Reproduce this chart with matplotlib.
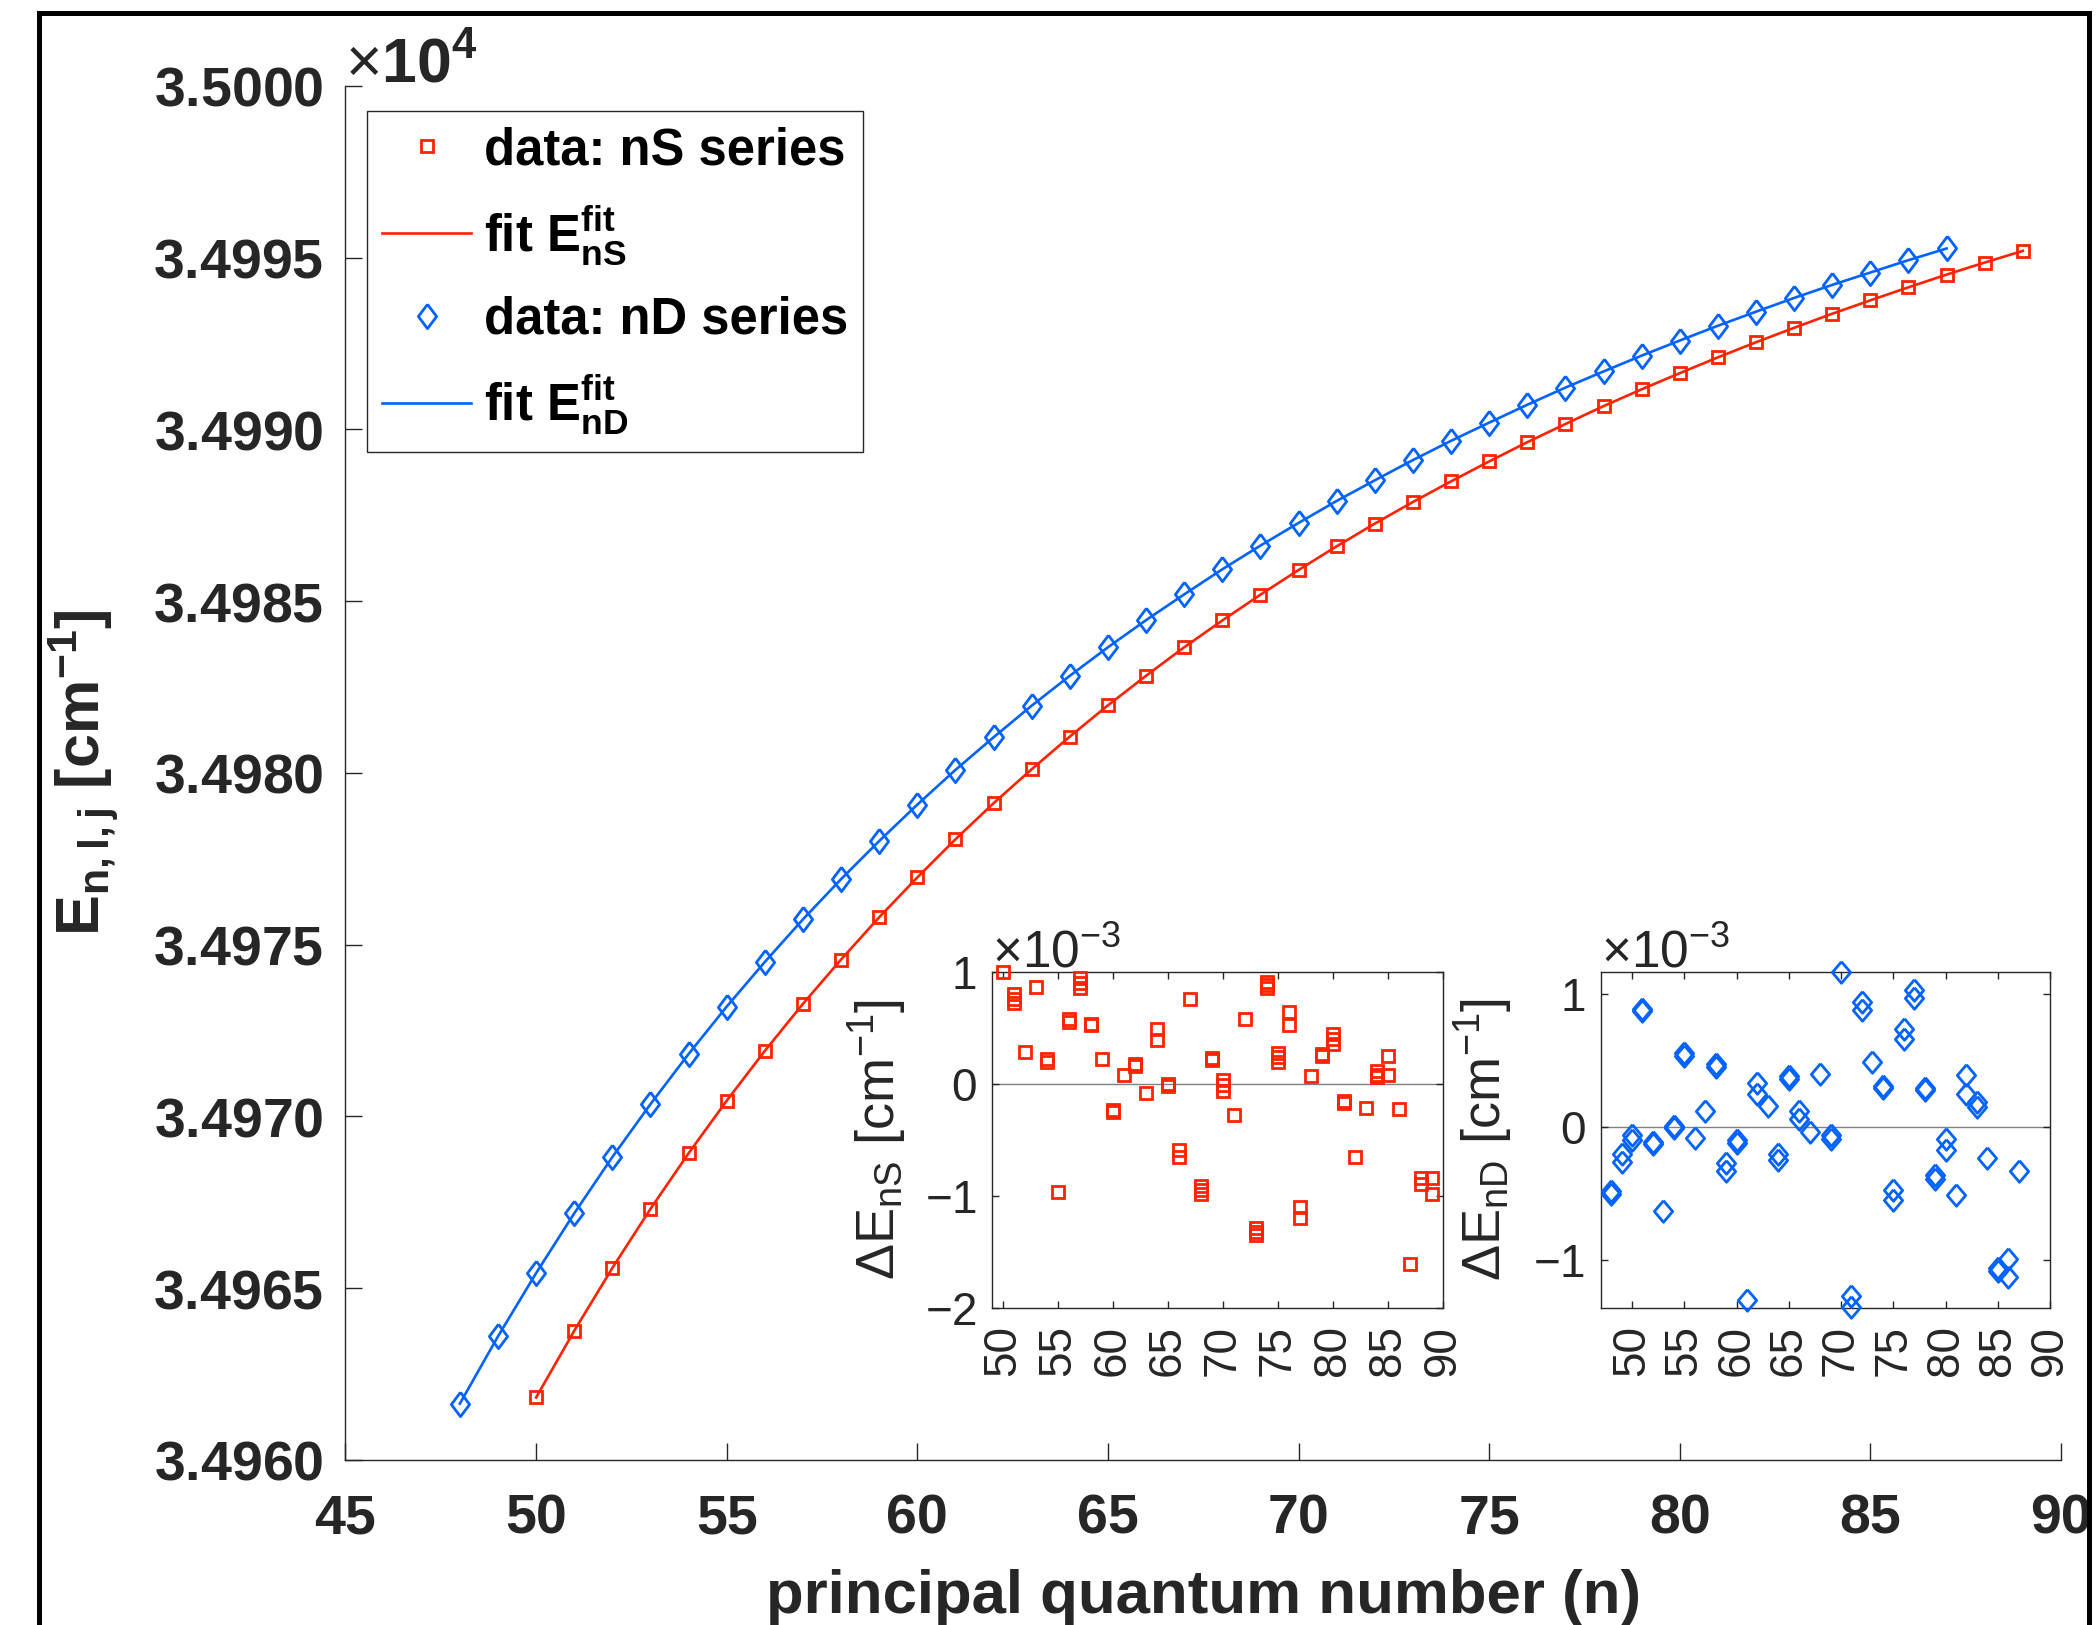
import numpy as np
import matplotlib
matplotlib.use("Agg")
import matplotlib.pyplot as plt
from matplotlib.patches import Rectangle
from matplotlib.ticker import ScalarFormatter

# level energies (cm^-1)
n_S = list(range(50, 90))
E_S = [34961.82, 34963.76, 34965.59, 34967.31, 34968.93, 34970.46, 34971.91, 34973.28,
       34974.57, 34975.80, 34976.96, 34978.07, 34979.12, 34980.11, 34981.06, 34981.97,
       34982.83, 34983.66, 34984.44, 34985.19, 34985.91, 34986.60, 34987.26, 34987.89,
       34988.49, 34989.07, 34989.63, 34990.16, 34990.68, 34991.17, 34991.64, 34992.10,
       34992.54, 34992.96, 34993.37, 34993.76, 34994.14, 34994.51, 34994.86, 34995.20]

n_D = list(range(48, 88))
E_D = [34961.64, 34963.60, 34965.44, 34967.18, 34968.82, 34970.36, 34971.82, 34973.20,
       34974.50, 34975.74, 34976.91, 34978.02, 34979.08, 34980.09, 34981.04, 34981.96,
       34982.83, 34983.66, 34984.45, 34985.20, 34985.93, 34986.62, 34987.28, 34987.92,
       34988.52, 34989.11, 34989.67, 34990.20, 34990.72, 34991.22, 34991.69, 34992.15,
       34992.59, 34993.02, 34993.43, 34993.83, 34994.21, 34994.57, 34994.93, 34995.27]

# fit residuals, repeated measurements per n (units of 1e-3 cm^-1)
res_S_n = [50, 51, 51, 51, 52, 53, 54, 54, 55, 56, 56, 57, 57, 57, 58, 58, 59, 60, 60, 61,
           62, 62, 63, 64, 64, 65, 65, 66, 66, 67, 68, 68, 68, 69, 69, 70, 70, 70, 71, 72,
           73, 73, 73, 74, 74, 74, 75, 75, 75, 76, 76, 77, 77, 78, 79, 79, 80, 80, 80, 81,
           81, 82, 83, 84, 84, 84, 85, 85, 86, 87, 88, 88, 89, 89]
res_S = [1.00, 0.80, 0.76, 0.72, 0.29, 0.87, 0.22, 0.20, -0.96, 0.58, 0.55, 0.95, 0.90, 0.86,
         0.54, 0.53, 0.22, -0.23, -0.25, 0.08, 0.18, 0.16, -0.08, 0.49, 0.39, 0.00, -0.02,
         -0.59, -0.65, 0.76, -0.91, -0.95, -0.98, 0.23, 0.21, 0.04, -0.01, -0.06, -0.28, 0.58,
         -1.29, -1.32, -1.35, 0.91, 0.88, 0.86, 0.28, 0.24, 0.20, 0.64, 0.53, -1.10, -1.20,
         0.07, 0.27, 0.25, 0.45, 0.40, 0.36, -0.15, -0.17, -0.65, -0.21, 0.12, 0.08, 0.06,
         0.25, 0.08, -0.22, -1.61, -0.84, -0.89, -0.84, -0.98]

res_D_n = [48, 48, 49, 49, 50, 50, 51, 51, 52, 52, 53, 54, 54, 55, 55, 56, 57, 58, 58, 59,
           59, 60, 60, 61, 62, 62, 63, 64, 64, 65, 65, 66, 66, 67, 68, 69, 69, 70, 71, 71,
           72, 72, 73, 74, 74, 75, 75, 76, 76, 77, 77, 78, 78, 79, 79, 80, 80, 81, 82, 82,
           83, 83, 84, 85, 85, 86, 86, 87]
res_D = [-0.48, -0.50, -0.20, -0.26, -0.06, -0.10, 0.89, 0.87, -0.11, -0.13, -0.63, 0.01,
         -0.01, 0.56, 0.53, -0.08, 0.12, 0.47, 0.45, -0.27, -0.33, -0.10, -0.12, -1.30, 0.33,
         0.25, 0.16, -0.20, -0.25, 0.38, 0.36, 0.12, 0.06, -0.04, 0.40, -0.06, -0.09, 1.165,
         -1.27, -1.35, 0.94, 0.88, 0.49, 0.31, 0.29, -0.47, -0.55, 0.74, 0.66, 1.03, 0.97,
         0.29, 0.28, -0.36, -0.39, -0.09, -0.17, -0.51, 0.39, 0.25, 0.19, 0.15, -0.23, -1.06,
         -1.08, -0.99, -1.13, -0.33]

red = "#ff2200"
blue = "#0062ff"
dark = "#262626"

plt.rcParams["font.family"] = ["Liberation Sans", "DejaVu Sans"]
plt.rcParams["axes.unicode_minus"] = False
plt.rcParams["mathtext.fontset"] = "custom"
plt.rcParams["mathtext.rm"] = "Liberation Sans"
plt.rcParams["mathtext.it"] = "Liberation Sans:italic"
plt.rcParams["mathtext.bf"] = "Liberation Sans:bold"

diamond = [(0, 1), (0.75, 0), (0, -1), (-0.75, 0), (0, 1)]
diamond_in = [(0, 1), (0.85, 0), (0, -1), (-0.85, 0), (0, 1)]

fig = plt.figure(figsize=(21, 16.25), dpi=100)

# main panel
ax = fig.add_axes([0.16452, 0.10154, 0.81690, 0.84554])
ax.plot(n_S, E_S, ls="none", marker="s", ms=8.5, mew=2.0, mfc="none", mec=red,
        label="data: nS series")
ax.plot(n_S, E_S, color=red, lw=1.9, label=r"fit $\mathbf{E^{fit}_{nS}}$")
ax.plot(n_D, E_D, ls="none", marker=diamond, ms=17.5, mew=2.0, mfc="none", mec=blue,
        label="data: nD series")
ax.plot(n_D, E_D, color=blue, lw=1.9, label=r"fit $\mathbf{E^{fit}_{nD}}$")

ax.set_xlim(45, 90)
ax.set_ylim(34960, 35000)
ax.set_xticks(np.arange(45, 91, 5))
ax.set_yticks(np.arange(34960, 35000.1, 5))
fmt = ScalarFormatter(useMathText=True, useOffset=False)
fmt.set_powerlimits((0, 0))
ax.yaxis.set_major_formatter(fmt)
ax.spines["top"].set_visible(False)
ax.spines["right"].set_visible(False)
for s in ("left", "bottom"):
    ax.spines[s].set_color(dark)
    ax.spines[s].set_linewidth(1.0)
ax.tick_params(direction="in", length=12, width=1, labelsize=40, pad=16,
               colors=dark, labelcolor=dark)
ax.tick_params(axis="x", pad=24)
for lab in ax.get_xticklabels() + ax.get_yticklabels():
    lab.set_fontweight("bold")
ax.yaxis.get_offset_text().set_fontsize(45)
ax.yaxis.get_offset_text().set_fontweight("bold")
ax.yaxis.get_offset_text().set_color(dark)

ax.set_xlabel("principal quantum number (n)", fontsize=44.5, fontweight="bold", color=dark)
ax.xaxis.set_label_coords(0.5, -0.0795)
ax.set_ylabel(r"$\mathbf{E_{n,l,j}\ [cm^{-1}]}$", fontsize=44, color=dark)
ax.yaxis.set_label_coords(-0.131, 0.5)

leg = ax.legend(loc="upper left", bbox_to_anchor=(0.0125, 0.9818), borderaxespad=0,
                prop={"weight": "bold", "size": 36.5}, fancybox=False, framealpha=1,
                edgecolor=dark, handlelength=1.75, handletextpad=0.25,
                labelspacing=0.56, borderpad=0.3)
leg.get_frame().set_linewidth(1.0)


def residual_panel(rect, n, res, marker, ms, color, xlim, ylim, yticks, label):
    a = fig.add_axes(rect)
    a.axhline(0, color="0.5", lw=1.0, zorder=1)
    a.plot(n, np.array(res) * 1e-3, ls="none", marker=marker, ms=ms, mew=2.0,
           mfc="none", mec=color, clip_on=False, zorder=3)
    a.set_xlim(*xlim)
    a.set_ylim(ylim[0] * 1e-3, ylim[1] * 1e-3)
    a.set_xticks(np.arange(50, 91, 5))
    a.set_yticks(np.array(yticks) * 1e-3)
    f = ScalarFormatter(useMathText=True, useOffset=False)
    f.set_powerlimits((0, 0))
    a.yaxis.set_major_formatter(f)
    a.yaxis.get_offset_text().set_fontsize(37)
    a.yaxis.get_offset_text().set_color(dark)
    for s in a.spines.values():
        s.set_color(dark)
        s.set_linewidth(1.0)
    a.tick_params(direction="in", length=5, width=1, labelsize=33, pad=11,
                  top=True, right=True, colors=dark, labelcolor=dark)
    a.tick_params(axis="x", labelrotation=90, pad=12)
    a.set_ylabel(label, fontsize=39, color=dark)
    return a


ax1 = residual_panel([0.47238, 0.19508, 0.21476, 0.20677], res_S_n, res_S, "s", 9, red,
                     (49, 90), (-2, 1), [-2, -1, 0, 1],
                     r"$\Delta\mathrm{E_{nS}\ [cm^{-1}]}$")
ax1.yaxis.set_label_coords(-0.185, 0.5)
ax2 = residual_panel([0.76224, 0.19508, 0.21395, 0.20677], res_D_n, res_D, diamond_in, 15.5,
                     blue, (47, 90), (-1.36, 1.165), [-1, 0, 1],
                     r"$\Delta\mathrm{E_{nD}\ [cm^{-1}]}$")
ax2.yaxis.set_label_coords(-0.19, 0.5)

# black outer frame
fig.add_artist(Rectangle((39 / 2100, -0.1), 2050 / 2100, 1.092, transform=fig.transFigure,
                         fill=False, ec="black", lw=3.6, clip_on=False))

fig.savefig("out.png", dpi=100)
